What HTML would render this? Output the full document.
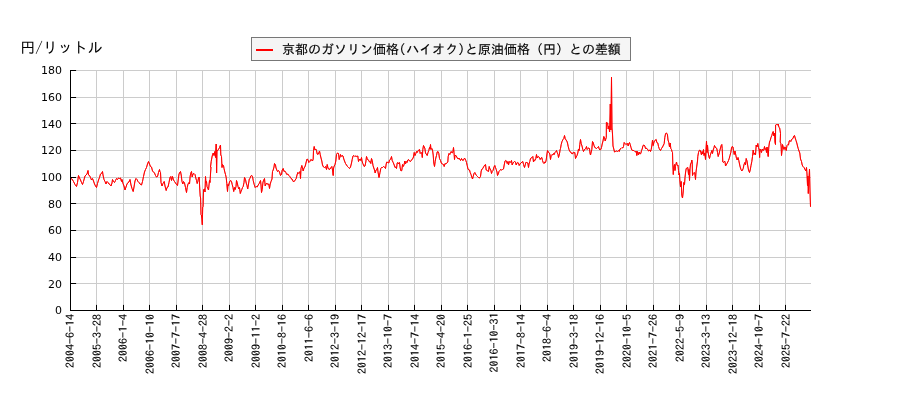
<!DOCTYPE html>
<html lang="ja"><head><meta charset="utf-8"><title>chart</title>
<style>
html,body{margin:0;padding:0;background:#fff;}
body{width:900px;height:400px;overflow:hidden;}
svg{display:block;}
.yt{font-family:"DejaVu Sans","Liberation Sans",sans-serif;font-size:10px;fill:#000;text-anchor:end;}
.xt{font-family:"IPAGothic","Liberation Sans","Noto Sans CJK JP",sans-serif;font-size:12px;fill:#000;text-anchor:end;stroke:#000;stroke-width:0.1px;}
.jp{font-family:"IPAGothic","Liberation Sans","Noto Sans CJK JP",sans-serif;fill:#000;}
</style></head><body>
<svg width="900" height="400" viewBox="0 0 900 400">
<rect width="900" height="400" fill="#fff"/>
<g stroke="#cccccc" stroke-width="1" fill="none" shape-rendering="auto">
<line x1="70.50" y1="70.5" x2="70.50" y2="310.5"/><line x1="96.50" y1="70.5" x2="96.50" y2="310.5"/><line x1="123.50" y1="70.5" x2="123.50" y2="310.5"/><line x1="149.50" y1="70.5" x2="149.50" y2="310.5"/><line x1="176.50" y1="70.5" x2="176.50" y2="310.5"/><line x1="202.50" y1="70.5" x2="202.50" y2="310.5"/><line x1="229.50" y1="70.5" x2="229.50" y2="310.5"/><line x1="255.50" y1="70.5" x2="255.50" y2="310.5"/><line x1="282.50" y1="70.5" x2="282.50" y2="310.5"/><line x1="308.50" y1="70.5" x2="308.50" y2="310.5"/><line x1="335.50" y1="70.5" x2="335.50" y2="310.5"/><line x1="361.50" y1="70.5" x2="361.50" y2="310.5"/><line x1="388.50" y1="70.5" x2="388.50" y2="310.5"/><line x1="414.50" y1="70.5" x2="414.50" y2="310.5"/><line x1="441.50" y1="70.5" x2="441.50" y2="310.5"/><line x1="467.50" y1="70.5" x2="467.50" y2="310.5"/><line x1="494.50" y1="70.5" x2="494.50" y2="310.5"/><line x1="520.50" y1="70.5" x2="520.50" y2="310.5"/><line x1="547.50" y1="70.5" x2="547.50" y2="310.5"/><line x1="573.50" y1="70.5" x2="573.50" y2="310.5"/><line x1="600.50" y1="70.5" x2="600.50" y2="310.5"/><line x1="626.50" y1="70.5" x2="626.50" y2="310.5"/><line x1="653.50" y1="70.5" x2="653.50" y2="310.5"/><line x1="679.50" y1="70.5" x2="679.50" y2="310.5"/><line x1="706.50" y1="70.5" x2="706.50" y2="310.5"/><line x1="732.50" y1="70.5" x2="732.50" y2="310.5"/><line x1="759.50" y1="70.5" x2="759.50" y2="310.5"/><line x1="785.50" y1="70.5" x2="785.50" y2="310.5"/><line x1="70.5" y1="310.50" x2="811.0" y2="310.50"/><line x1="70.5" y1="283.50" x2="811.0" y2="283.50"/><line x1="70.5" y1="257.50" x2="811.0" y2="257.50"/><line x1="70.5" y1="230.50" x2="811.0" y2="230.50"/><line x1="70.5" y1="203.50" x2="811.0" y2="203.50"/><line x1="70.5" y1="177.50" x2="811.0" y2="177.50"/><line x1="70.5" y1="150.50" x2="811.0" y2="150.50"/><line x1="70.5" y1="123.50" x2="811.0" y2="123.50"/><line x1="70.5" y1="97.50" x2="811.0" y2="97.50"/><line x1="70.5" y1="70.50" x2="811.0" y2="70.50"/>
</g>
<path id="ln" d="M70.5,178.3 L71.0,178.5 L72.0,179.0 L73.5,181.5 L75.0,184.5 L76.5,186.5 L77.5,182.5 L78.5,175.5 L79.5,178.0 L80.5,180.0 L81.5,182.5 L82.5,184.5 L83.5,181.5 L85.0,176.0 L86.0,175.0 L87.0,174.0 L88.0,170.5 L88.5,175.0 L89.5,175.5 L90.5,177.5 L91.5,180.0 L92.5,178.5 L93.5,181.0 L94.5,184.0 L95.5,186.0 L96.5,187.5 L97.5,183.5 L98.5,180.0 L99.5,177.5 L100.5,174.0 L101.5,173.5 L102.5,171.5 L103.0,175.0 L104.0,179.5 L105.0,181.5 L106.0,184.0 L107.0,181.5 L108.0,182.5 L109.0,184.0 L110.0,184.5 L111.0,186.0 L112.0,183.0 L112.5,179.5 L113.5,181.5 L114.5,182.5 L115.5,180.5 L116.5,178.5 L117.5,179.5 L118.5,178.0 L119.5,178.5 L120.5,178.0 L121.5,181.5 L122.0,179.5 L123.0,183.5 L124.0,186.0 L125.0,190.0 L126.0,187.0 L127.0,184.0 L128.0,182.5 L129.0,182.0 L130.0,179.5 L131.0,185.0 L132.0,188.5 L133.2,191.5 L134.0,187.0 L135.0,181.0 L136.0,178.5 L137.0,179.5 L138.0,181.5 L139.0,182.5 L140.0,184.0 L141.5,185.0 L142.5,181.5 L143.5,176.5 L144.5,172.0 L145.5,169.5 L146.5,167.5 L147.5,164.0 L148.5,161.5 L149.5,164.0 L150.5,166.5 L151.5,167.0 L152.5,171.0 L153.5,172.0 L154.5,173.0 L155.5,175.5 L156.5,177.0 L157.5,176.5 L158.5,172.5 L159.5,169.5 L160.0,172.0 L160.5,172.5 L161.0,182.5 L162.0,186.0 L163.0,183.5 L164.2,181.5 L165.0,186.0 L166.2,190.5 L167.0,187.5 L168.0,187.0 L169.0,182.5 L170.0,177.5 L170.8,176.5 L171.5,180.5 L172.5,176.5 L173.5,180.0 L174.5,181.5 L175.5,183.0 L176.5,184.5 L177.5,185.5 L178.2,180.0 L179.0,174.0 L180.0,172.0 L180.5,171.5 L181.2,175.0 L182.0,181.5 L182.8,184.0 L183.5,181.5 L184.5,183.0 L185.5,187.5 L186.5,192.5 L187.2,187.5 L188.0,184.0 L189.0,182.5 L189.5,184.0 L190.2,176.0 L191.0,172.5 L191.5,171.5 L192.2,177.0 L193.0,174.0 L194.0,173.5 L195.0,174.5 L195.8,178.0 L196.5,180.5 L197.2,183.5 L197.8,181.5 L198.5,178.0 L199.2,177.0 L199.7,188.0 L200.2,196.0 L200.6,198.0 L201.0,214.5 L201.4,215.0 L201.9,219.0 L202.3,224.8 L202.7,207.0 L203.1,206.5 L203.3,198.0 L203.6,189.5 L204.5,189.0 L205.0,192.0 L205.5,176.5 L206.0,183.0 L206.5,181.5 L207.0,186.5 L207.8,188.5 L208.5,190.0 L209.0,185.0 L209.5,180.5 L210.0,182.5 L210.5,174.0 L211.0,167.0 L210.5,167.0 L211.2,161.5 L212.2,156.0 L213.2,153.0 L214.0,155.5 L214.8,151.5 L215.5,157.5 L216.2,144.0 L216.6,173.0 L217.0,150.0 L217.8,150.5 L218.5,149.5 L219.5,147.5 L220.5,145.0 L220.8,155.0 L221.5,156.5 L222.0,167.5 L222.5,164.5 L223.5,165.5 L224.0,168.5 L224.8,172.0 L225.5,174.5 L226.2,177.5 L226.8,183.5 L227.5,191.5 L228.0,184.5 L228.5,186.0 L229.2,183.0 L230.0,181.0 L230.8,180.5 L231.5,181.5 L232.2,184.5 L233.0,187.5 L233.7,191.5 L234.5,187.5 L235.2,189.5 L236.0,186.5 L236.5,180.5 L237.2,182.5 L238.0,186.5 L238.8,189.0 L239.5,187.5 L240.3,193.5 L241.0,191.5 L241.8,189.5 L242.5,187.5 L243.2,186.5 L244.0,182.5 L244.5,177.5 L245.5,179.5 L246.2,183.0 L247.0,185.5 L247.7,189.0 L248.5,184.0 L249.3,179.0 L250.0,178.5 L250.8,176.0 L251.8,175.5 L252.5,176.5 L253.2,180.5 L254.2,184.5 L255.2,187.5 L256.2,186.5 L257.2,187.0 L258.2,185.0 L259.2,183.5 L260.5,180.5 L261.0,185.0 L261.5,192.5 L262.2,189.5 L263.0,182.0 L263.8,180.0 L264.5,178.5 L265.2,186.0 L266.0,184.0 L266.8,183.0 L267.8,184.5 L268.8,184.0 L269.5,188.5 L270.2,184.0 L271.0,181.5 L272.0,179.0 L272.5,171.5 L273.2,170.0 L274.0,167.0 L274.5,163.5 L275.5,165.0 L276.0,168.0 L276.8,170.0 L277.5,171.5 L278.5,170.5 L279.5,172.0 L280.5,175.5 L281.5,174.5 L282.2,170.0 L283.2,168.5 L284.0,171.5 L284.8,171.0 L285.8,172.5 L286.8,174.5 L287.8,174.0 L288.8,175.5 L289.8,176.5 L291.0,178.5 L292.0,179.0 L293.2,181.5 L294.2,181.5 L295.2,180.0 L296.2,178.5 L297.0,175.0 L297.8,172.5 L298.8,173.5 L299.5,172.0 L300.0,171.5 L300.5,178.5 L301.0,168.5 L301.8,165.5 L302.5,168.0 L303.2,171.0 L304.0,168.0 L304.8,167.0 L305.5,165.0 L306.2,162.0 L307.0,159.0 L307.8,159.5 L308.8,162.5 L309.8,161.5 L310.8,159.5 L311.8,160.0 L312.5,161.0 L313.2,159.0 L313.5,150.5 L314.2,146.5 L315.0,150.0 L315.8,149.0 L316.5,150.5 L317.2,154.0 L318.0,154.5 L318.8,153.0 L319.5,151.0 L320.2,154.5 L321.0,158.0 L321.8,161.0 L322.5,165.0 L323.5,167.0 L324.5,167.5 L325.5,166.5 L326.5,169.5 L327.2,164.5 L328.0,168.0 L329.0,169.5 L330.0,169.0 L331.0,167.5 L331.8,166.5 L332.5,170.0 L333.2,175.5 L333.6,168.0 L334.2,166.0 L335.0,164.5 L335.8,161.0 L336.5,154.5 L337.5,153.0 L338.5,153.5 L339.2,159.5 L339.8,157.5 L340.5,154.5 L341.2,156.5 L342.0,155.5 L343.0,156.0 L343.8,159.0 L344.5,161.0 L345.5,163.5 L346.5,165.0 L347.5,166.5 L348.5,167.5 L349.5,168.5 L350.5,167.0 L351.5,163.0 L352.2,159.5 L353.0,156.0 L353.8,155.5 L354.8,156.5 L355.8,156.0 L356.8,156.5 L357.8,156.0 L358.5,161.5 L359.2,160.0 L360.0,159.0 L360.8,160.5 L361.5,157.5 L362.0,161.0 L362.8,163.5 L363.5,165.0 L364.2,166.5 L365.0,166.0 L365.8,162.0 L366.5,156.5 L367.2,158.5 L368.0,160.0 L368.8,160.5 L369.5,162.0 L370.2,161.5 L370.8,163.5 L371.5,158.5 L372.2,160.5 L373.0,165.5 L373.8,168.0 L374.5,170.0 L375.2,173.0 L376.0,170.0 L376.8,169.5 L377.5,167.5 L378.0,172.0 L379.0,177.5 L380.0,172.5 L380.8,168.5 L381.5,167.5 L382.5,167.5 L383.5,166.5 L384.5,167.0 L385.5,168.5 L386.2,164.0 L386.8,162.0 L387.8,162.5 L388.8,163.0 L389.5,160.0 L390.0,159.5 L390.8,159.0 L391.5,156.5 L392.2,160.5 L393.2,162.5 L394.2,165.0 L395.0,167.5 L395.8,167.0 L396.5,168.5 L397.2,163.0 L398.0,162.5 L398.8,164.0 L399.5,162.5 L400.2,168.0 L401.0,171.0 L401.8,170.5 L402.5,164.5 L403.2,166.5 L404.0,165.0 L404.8,161.0 L405.5,164.0 L406.2,161.5 L407.0,162.5 L407.8,160.0 L408.5,159.5 L409.5,161.0 L410.5,161.5 L411.5,160.0 L412.5,159.0 L413.5,157.0 L414.2,152.5 L415.0,155.5 L415.8,153.5 L416.5,151.5 L417.2,152.5 L418.2,150.5 L419.0,150.0 L419.5,149.5 L420.2,153.5 L421.0,152.5 L421.8,153.0 L422.3,157.5 L422.8,149.5 L423.5,145.5 L424.2,147.0 L424.8,148.0 L425.5,153.0 L426.2,154.0 L427.2,155.5 L428.0,152.5 L428.8,150.5 L429.5,147.5 L430.0,149.0 L430.5,144.5 L431.0,149.5 L431.8,148.5 L432.5,150.0 L433.2,155.0 L433.8,163.0 L434.5,166.5 L435.2,161.5 L435.8,158.0 L436.5,155.5 L437.2,152.0 L438.0,151.5 L438.8,153.5 L439.5,158.5 L440.5,160.5 L441.5,163.5 L442.5,164.0 L443.5,164.5 L444.2,166.5 L445.0,163.5 L445.8,164.0 L446.8,163.0 L447.8,162.0 L448.2,156.5 L449.0,153.5 L449.8,154.5 L450.5,152.5 L451.2,151.5 L452.0,153.0 L452.8,152.5 L453.5,147.5 L454.0,152.5 L454.5,159.5 L455.0,155.5 L456.0,155.5 L456.8,157.0 L457.5,158.5 L458.2,159.0 L459.0,158.0 L459.8,159.5 L460.5,160.5 L461.5,158.5 L462.2,160.0 L463.2,160.5 L464.2,158.5 L465.0,158.5 L465.8,160.5 L466.5,162.5 L467.2,165.5 L468.0,169.0 L468.8,170.0 L469.5,170.0 L470.2,172.5 L471.0,174.5 L471.8,177.0 L472.5,179.0 L473.2,176.5 L474.0,173.5 L474.8,172.5 L475.5,174.0 L476.5,175.5 L477.5,176.5 L478.5,177.5 L479.5,178.0 L480.0,177.0 L480.5,176.5 L481.2,171.0 L482.0,169.0 L482.8,168.5 L483.8,166.5 L484.8,165.0 L485.5,164.5 L486.2,170.0 L487.0,170.5 L487.8,171.0 L488.5,171.5 L489.2,166.5 L490.0,169.0 L490.8,170.0 L491.5,173.5 L492.2,171.5 L493.0,170.5 L494.0,167.0 L494.8,165.5 L495.5,167.5 L496.2,169.5 L497.0,172.0 L497.5,175.5 L498.2,174.0 L499.0,171.5 L499.8,170.5 L500.5,169.5 L501.5,170.0 L502.5,169.5 L503.5,169.0 L504.2,165.0 L505.0,161.0 L505.8,160.5 L506.5,161.0 L507.2,163.5 L508.0,161.5 L508.5,165.0 L509.2,162.0 L510.0,161.5 L510.8,162.5 L511.5,160.5 L512.2,165.0 L513.0,163.0 L513.8,162.0 L514.5,161.5 L515.5,162.0 L516.2,165.0 L517.0,163.0 L517.8,162.5 L518.5,163.0 L519.2,165.5 L520.0,164.0 L521.0,163.0 L522.0,162.0 L522.8,161.5 L523.5,164.5 L524.5,167.5 L525.2,165.0 L525.8,162.5 L526.8,162.5 L527.8,163.0 L528.5,167.5 L529.0,164.0 L529.8,161.5 L530.5,158.5 L531.2,158.0 L532.0,157.5 L532.8,156.5 L533.5,162.0 L534.2,160.0 L535.0,160.5 L535.8,158.5 L536.5,154.5 L537.2,158.0 L538.0,156.5 L538.8,157.0 L539.5,157.5 L540.2,159.5 L541.0,158.0 L541.8,157.5 L542.5,160.5 L543.2,162.5 L544.0,163.5 L544.8,162.0 L545.5,162.5 L546.2,160.0 L546.8,155.0 L547.5,150.5 L548.2,152.0 L549.0,152.5 L549.8,154.0 L550.5,159.5 L551.2,155.5 L552.0,154.5 L552.8,155.0 L553.5,153.5 L554.2,154.5 L555.0,152.5 L555.8,151.5 L556.5,150.5 L557.2,152.5 L558.0,154.5 L558.5,157.5 L559.2,155.0 L559.8,152.0 L560.0,150.0 L560.5,148.5 L561.2,144.5 L562.0,141.5 L563.0,139.5 L563.8,138.5 L564.5,135.5 L565.2,138.5 L566.0,140.0 L566.8,141.0 L567.5,143.0 L568.2,146.5 L569.0,149.5 L569.8,151.5 L570.8,152.0 L571.5,153.5 L572.2,154.0 L573.0,152.5 L574.0,153.0 L574.8,152.5 L575.5,158.5 L576.2,157.0 L577.0,155.5 L577.8,153.0 L578.5,149.0 L579.2,150.5 L579.8,144.5 L580.5,139.5 L581.2,143.5 L582.0,146.0 L582.8,149.5 L583.5,151.5 L584.2,150.0 L585.0,149.0 L585.8,148.5 L586.5,146.5 L587.2,149.5 L588.0,148.5 L588.8,148.0 L589.5,148.5 L590.0,153.0 L590.5,155.0 L591.2,152.0 L591.8,149.5 L592.5,141.5 L593.2,142.5 L594.0,145.5 L594.8,147.5 L595.8,148.0 L596.5,148.5 L597.5,147.5 L598.5,146.5 L599.2,149.0 L600.0,150.0 L600.8,149.5 L601.5,147.5 L602.2,144.0 L603.0,141.0 L603.8,136.5 L604.5,137.5 L605.2,141.0 L605.8,139.0 L606.3,137.5 L606.4,122.4 L607.6,123.0 L608.2,129.0 L608.9,126.0 L609.6,132.0 L610.3,104.0 L610.9,130.0 L611.5,77.2 L612.0,128.0 L612.5,134.0 L613.0,146.0 L613.8,149.0 L614.5,152.0 L615.5,151.5 L616.5,151.0 L617.5,151.5 L618.5,150.5 L619.2,151.5 L620.0,149.0 L621.0,148.5 L622.0,147.5 L622.8,148.0 L623.5,146.5 L624.2,142.5 L625.0,143.5 L625.8,144.5 L626.5,144.0 L627.5,143.5 L628.2,146.0 L629.0,143.0 L629.5,142.5 L630.2,144.5 L631.0,147.5 L631.8,150.0 L632.8,150.5 L633.8,150.5 L634.8,151.5 L635.5,152.0 L636.2,151.0 L636.8,155.5 L637.5,151.5 L638.5,155.0 L639.2,152.0 L640.0,154.0 L640.8,153.5 L641.5,150.5 L642.2,149.0 L643.0,145.5 L644.0,145.0 L644.8,146.0 L645.5,148.5 L646.2,148.0 L647.0,149.0 L647.8,149.5 L648.5,151.0 L649.2,150.5 L650.0,150.0 L650.5,151.5 L651.2,149.5 L651.8,146.0 L652.5,140.0 L653.2,145.5 L654.0,142.0 L654.8,140.5 L655.5,140.0 L656.2,139.5 L656.8,142.5 L657.8,143.0 L658.5,146.5 L659.2,148.5 L660.0,150.0 L660.5,150.5 L661.5,148.5 L662.5,147.0 L663.5,145.0 L664.2,143.5 L664.8,137.5 L665.5,134.0 L666.2,133.0 L667.0,133.5 L667.5,135.0 L668.0,140.0 L668.8,142.5 L669.5,147.0 L670.2,143.0 L670.8,148.5 L671.5,149.5 L672.0,151.5 L672.5,152.5 L672.8,164.0 L673.3,174.5 L673.8,167.0 L674.5,164.5 L675.0,170.5 L675.5,166.5 L676.0,164.0 L676.5,162.0 L677.0,164.5 L677.5,165.5 L678.0,165.0 L678.5,170.5 L679.0,175.0 L679.5,173.5 L679.8,179.5 L680.5,187.0 L681.2,181.5 L681.8,195.5 L682.5,198.0 L683.2,192.0 L683.8,182.5 L684.5,184.5 L685.0,177.5 L685.5,173.0 L686.2,168.5 L687.0,168.0 L687.8,167.5 L688.5,174.5 L689.0,169.5 L689.5,180.5 L690.0,169.0 L690.5,164.0 L691.2,163.0 L691.8,160.0 L692.2,162.0 L692.5,175.5 L693.2,173.5 L694.0,172.5 L694.8,173.0 L695.5,179.5 L696.0,172.0 L696.8,166.0 L697.5,161.0 L697.8,156.5 L698.5,152.5 L699.2,150.5 L700.0,150.0 L700.8,152.5 L701.5,155.0 L702.0,151.5 L702.8,154.0 L703.5,149.5 L704.0,155.5 L704.8,153.0 L705.5,159.5 L706.0,150.0 L706.5,141.0 L707.0,152.5 L707.5,145.0 L708.0,151.5 L708.8,156.5 L709.5,158.5 L710.2,155.5 L711.0,153.0 L711.8,150.5 L712.5,153.5 L713.2,150.0 L714.0,147.5 L714.5,145.5 L715.2,147.0 L716.0,148.0 L716.8,148.5 L717.5,152.5 L718.2,156.5 L719.0,154.0 L719.8,150.5 L720.5,148.0 L721.2,145.5 L721.8,144.5 L722.2,148.5 L722.8,162.0 L723.5,162.5 L724.2,161.5 L725.0,161.5 L725.5,166.0 L726.2,165.0 L727.0,163.5 L727.8,162.0 L728.5,160.5 L729.2,158.5 L730.0,155.5 L730.8,152.5 L731.5,148.0 L732.2,146.5 L733.0,147.0 L733.5,150.5 L734.2,154.5 L735.0,151.0 L735.8,155.0 L736.5,158.5 L737.2,160.0 L738.0,157.5 L738.8,160.5 L739.5,164.0 L740.2,167.0 L741.0,169.5 L741.8,171.0 L742.5,170.0 L743.2,168.5 L744.0,164.5 L744.8,162.5 L745.5,165.0 L746.2,158.5 L747.0,161.0 L747.8,166.0 L748.5,170.0 L749.5,172.5 L750.2,170.0 L751.0,165.5 L751.8,161.5 L752.5,156.5 L753.2,150.0 L754.0,154.5 L754.8,153.0 L755.5,155.0 L756.2,145.0 L757.0,147.0 L757.8,143.5 L758.5,147.5 L759.2,150.0 L759.6,157.5 L760.0,149.0 L760.8,150.5 L761.5,152.5 L762.2,149.0 L763.0,150.5 L763.8,150.0 L764.5,146.5 L765.2,149.5 L766.0,148.5 L766.5,152.5 L767.0,147.0 L767.5,150.0 L768.2,156.5 L768.8,147.0 L769.5,142.0 L770.2,140.5 L771.0,137.5 L771.8,135.5 L772.5,133.0 L773.2,131.5 L773.8,136.0 L774.5,133.0 L775.0,142.5 L775.5,144.5 L775.6,125.0 L776.5,124.5 L777.5,125.0 L778.2,124.0 L779.0,127.5 L779.7,128.0 L780.5,133.5 L780.2,142.0 L780.8,143.5 L781.2,147.0 L781.5,155.5 L782.0,151.0 L782.5,144.5 L783.2,147.0 L784.0,149.5 L784.8,147.0 L785.5,147.5 L786.2,150.5 L787.0,145.5 L787.8,144.5 L788.5,145.0 L789.2,141.0 L790.0,140.5 L790.8,141.5 L791.5,139.5 L792.2,139.0 L793.0,138.5 L793.8,136.0 L794.5,135.5 L795.2,138.0 L796.0,140.5 L796.8,143.0 L797.5,146.0 L798.2,148.5 L799.0,151.0 L799.8,153.0 L800.5,159.0 L801.5,161.5 L802.2,165.0 L803.0,166.5 L804.0,167.5 L805.0,169.5 L805.8,171.0 L806.5,167.5 L807.0,174.0 L807.5,185.5 L807.9,176.0 L808.3,193.5 L808.9,180.0 L809.5,169.0 L810.0,191.0 L810.5,206.8" fill="none" stroke="#ff0000" stroke-width="1" stroke-linejoin="miter" stroke-miterlimit="3"/>
<path d="M70.5,178.3 L71.0,178.5 L72.0,179.0 L73.5,181.5 L75.0,184.5 L76.5,186.5 L77.5,182.5 L78.5,175.5 L79.5,178.0 L80.5,180.0 L81.5,182.5 L82.5,184.5 L83.5,181.5 L85.0,176.0 L86.0,175.0 L87.0,174.0 L88.0,170.5 L88.5,175.0 L89.5,175.5 L90.5,177.5 L91.5,180.0 L92.5,178.5 L93.5,181.0 L94.5,184.0 L95.5,186.0 L96.5,187.5 L97.5,183.5 L98.5,180.0 L99.5,177.5 L100.5,174.0 L101.5,173.5 L102.5,171.5 L103.0,175.0 L104.0,179.5 L105.0,181.5 L106.0,184.0 L107.0,181.5 L108.0,182.5 L109.0,184.0 L110.0,184.5 L111.0,186.0 L112.0,183.0 L112.5,179.5 L113.5,181.5 L114.5,182.5 L115.5,180.5 L116.5,178.5 L117.5,179.5 L118.5,178.0 L119.5,178.5 L120.5,178.0 L121.5,181.5 L122.0,179.5 L123.0,183.5 L124.0,186.0 L125.0,190.0 L126.0,187.0 L127.0,184.0 L128.0,182.5 L129.0,182.0 L130.0,179.5 L131.0,185.0 L132.0,188.5 L133.2,191.5 L134.0,187.0 L135.0,181.0 L136.0,178.5 L137.0,179.5 L138.0,181.5 L139.0,182.5 L140.0,184.0 L141.5,185.0 L142.5,181.5 L143.5,176.5 L144.5,172.0 L145.5,169.5 L146.5,167.5 L147.5,164.0 L148.5,161.5 L149.5,164.0 L150.5,166.5 L151.5,167.0 L152.5,171.0 L153.5,172.0 L154.5,173.0 L155.5,175.5 L156.5,177.0 L157.5,176.5 L158.5,172.5 L159.5,169.5 L160.0,172.0 L160.5,172.5 L161.0,182.5 L162.0,186.0 L163.0,183.5 L164.2,181.5 L165.0,186.0 L166.2,190.5 L167.0,187.5 L168.0,187.0 L169.0,182.5 L170.0,177.5 L170.8,176.5 L171.5,180.5 L172.5,176.5 L173.5,180.0 L174.5,181.5 L175.5,183.0 L176.5,184.5 L177.5,185.5 L178.2,180.0 L179.0,174.0 L180.0,172.0 L180.5,171.5 L181.2,175.0 L182.0,181.5 L182.8,184.0 L183.5,181.5 L184.5,183.0 L185.5,187.5 L186.5,192.5 L187.2,187.5 L188.0,184.0 L189.0,182.5 L189.5,184.0 L190.2,176.0 L191.0,172.5 L191.5,171.5 L192.2,177.0 L193.0,174.0 L194.0,173.5 L195.0,174.5 L195.8,178.0 L196.5,180.5 L197.2,183.5 L197.8,181.5 L198.5,178.0 L199.2,177.0 L199.7,188.0 L200.2,196.0 L200.6,198.0 L201.0,214.5 L201.4,215.0 L201.9,219.0 L202.3,224.8 L202.7,207.0 L203.1,206.5 L203.3,198.0 L203.6,189.5 L204.5,189.0 L205.0,192.0 L205.5,176.5 L206.0,183.0 L206.5,181.5 L207.0,186.5 L207.8,188.5 L208.5,190.0 L209.0,185.0 L209.5,180.5 L210.0,182.5 L210.5,174.0 L211.0,167.0 L210.5,167.0 L211.2,161.5 L212.2,156.0 L213.2,153.0 L214.0,155.5 L214.8,151.5 L215.5,157.5 L216.2,144.0 L216.6,173.0 L217.0,150.0 L217.8,150.5 L218.5,149.5 L219.5,147.5 L220.5,145.0 L220.8,155.0 L221.5,156.5 L222.0,167.5 L222.5,164.5 L223.5,165.5 L224.0,168.5 L224.8,172.0 L225.5,174.5 L226.2,177.5 L226.8,183.5 L227.5,191.5 L228.0,184.5 L228.5,186.0 L229.2,183.0 L230.0,181.0 L230.8,180.5 L231.5,181.5 L232.2,184.5 L233.0,187.5 L233.7,191.5 L234.5,187.5 L235.2,189.5 L236.0,186.5 L236.5,180.5 L237.2,182.5 L238.0,186.5 L238.8,189.0 L239.5,187.5 L240.3,193.5 L241.0,191.5 L241.8,189.5 L242.5,187.5 L243.2,186.5 L244.0,182.5 L244.5,177.5 L245.5,179.5 L246.2,183.0 L247.0,185.5 L247.7,189.0 L248.5,184.0 L249.3,179.0 L250.0,178.5 L250.8,176.0 L251.8,175.5 L252.5,176.5 L253.2,180.5 L254.2,184.5 L255.2,187.5 L256.2,186.5 L257.2,187.0 L258.2,185.0 L259.2,183.5 L260.5,180.5 L261.0,185.0 L261.5,192.5 L262.2,189.5 L263.0,182.0 L263.8,180.0 L264.5,178.5 L265.2,186.0 L266.0,184.0 L266.8,183.0 L267.8,184.5 L268.8,184.0 L269.5,188.5 L270.2,184.0 L271.0,181.5 L272.0,179.0 L272.5,171.5 L273.2,170.0 L274.0,167.0 L274.5,163.5 L275.5,165.0 L276.0,168.0 L276.8,170.0 L277.5,171.5 L278.5,170.5 L279.5,172.0 L280.5,175.5 L281.5,174.5 L282.2,170.0 L283.2,168.5 L284.0,171.5 L284.8,171.0 L285.8,172.5 L286.8,174.5 L287.8,174.0 L288.8,175.5 L289.8,176.5 L291.0,178.5 L292.0,179.0 L293.2,181.5 L294.2,181.5 L295.2,180.0 L296.2,178.5 L297.0,175.0 L297.8,172.5 L298.8,173.5 L299.5,172.0 L300.0,171.5 L300.5,178.5 L301.0,168.5 L301.8,165.5 L302.5,168.0 L303.2,171.0 L304.0,168.0 L304.8,167.0 L305.5,165.0 L306.2,162.0 L307.0,159.0 L307.8,159.5 L308.8,162.5 L309.8,161.5 L310.8,159.5 L311.8,160.0 L312.5,161.0 L313.2,159.0 L313.5,150.5 L314.2,146.5 L315.0,150.0 L315.8,149.0 L316.5,150.5 L317.2,154.0 L318.0,154.5 L318.8,153.0 L319.5,151.0 L320.2,154.5 L321.0,158.0 L321.8,161.0 L322.5,165.0 L323.5,167.0 L324.5,167.5 L325.5,166.5 L326.5,169.5 L327.2,164.5 L328.0,168.0 L329.0,169.5 L330.0,169.0 L331.0,167.5 L331.8,166.5 L332.5,170.0 L333.2,175.5 L333.6,168.0 L334.2,166.0 L335.0,164.5 L335.8,161.0 L336.5,154.5 L337.5,153.0 L338.5,153.5 L339.2,159.5 L339.8,157.5 L340.5,154.5 L341.2,156.5 L342.0,155.5 L343.0,156.0 L343.8,159.0 L344.5,161.0 L345.5,163.5 L346.5,165.0 L347.5,166.5 L348.5,167.5 L349.5,168.5 L350.5,167.0 L351.5,163.0 L352.2,159.5 L353.0,156.0 L353.8,155.5 L354.8,156.5 L355.8,156.0 L356.8,156.5 L357.8,156.0 L358.5,161.5 L359.2,160.0 L360.0,159.0 L360.8,160.5 L361.5,157.5 L362.0,161.0 L362.8,163.5 L363.5,165.0 L364.2,166.5 L365.0,166.0 L365.8,162.0 L366.5,156.5 L367.2,158.5 L368.0,160.0 L368.8,160.5 L369.5,162.0 L370.2,161.5 L370.8,163.5 L371.5,158.5 L372.2,160.5 L373.0,165.5 L373.8,168.0 L374.5,170.0 L375.2,173.0 L376.0,170.0 L376.8,169.5 L377.5,167.5 L378.0,172.0 L379.0,177.5 L380.0,172.5 L380.8,168.5 L381.5,167.5 L382.5,167.5 L383.5,166.5 L384.5,167.0 L385.5,168.5 L386.2,164.0 L386.8,162.0 L387.8,162.5 L388.8,163.0 L389.5,160.0 L390.0,159.5 L390.8,159.0 L391.5,156.5 L392.2,160.5 L393.2,162.5 L394.2,165.0 L395.0,167.5 L395.8,167.0 L396.5,168.5 L397.2,163.0 L398.0,162.5 L398.8,164.0 L399.5,162.5 L400.2,168.0 L401.0,171.0 L401.8,170.5 L402.5,164.5 L403.2,166.5 L404.0,165.0 L404.8,161.0 L405.5,164.0 L406.2,161.5 L407.0,162.5 L407.8,160.0 L408.5,159.5 L409.5,161.0 L410.5,161.5 L411.5,160.0 L412.5,159.0 L413.5,157.0 L414.2,152.5 L415.0,155.5 L415.8,153.5 L416.5,151.5 L417.2,152.5 L418.2,150.5 L419.0,150.0 L419.5,149.5 L420.2,153.5 L421.0,152.5 L421.8,153.0 L422.3,157.5 L422.8,149.5 L423.5,145.5 L424.2,147.0 L424.8,148.0 L425.5,153.0 L426.2,154.0 L427.2,155.5 L428.0,152.5 L428.8,150.5 L429.5,147.5 L430.0,149.0 L430.5,144.5 L431.0,149.5 L431.8,148.5 L432.5,150.0 L433.2,155.0 L433.8,163.0 L434.5,166.5 L435.2,161.5 L435.8,158.0 L436.5,155.5 L437.2,152.0 L438.0,151.5 L438.8,153.5 L439.5,158.5 L440.5,160.5 L441.5,163.5 L442.5,164.0 L443.5,164.5 L444.2,166.5 L445.0,163.5 L445.8,164.0 L446.8,163.0 L447.8,162.0 L448.2,156.5 L449.0,153.5 L449.8,154.5 L450.5,152.5 L451.2,151.5 L452.0,153.0 L452.8,152.5 L453.5,147.5 L454.0,152.5 L454.5,159.5 L455.0,155.5 L456.0,155.5 L456.8,157.0 L457.5,158.5 L458.2,159.0 L459.0,158.0 L459.8,159.5 L460.5,160.5 L461.5,158.5 L462.2,160.0 L463.2,160.5 L464.2,158.5 L465.0,158.5 L465.8,160.5 L466.5,162.5 L467.2,165.5 L468.0,169.0 L468.8,170.0 L469.5,170.0 L470.2,172.5 L471.0,174.5 L471.8,177.0 L472.5,179.0 L473.2,176.5 L474.0,173.5 L474.8,172.5 L475.5,174.0 L476.5,175.5 L477.5,176.5 L478.5,177.5 L479.5,178.0 L480.0,177.0 L480.5,176.5 L481.2,171.0 L482.0,169.0 L482.8,168.5 L483.8,166.5 L484.8,165.0 L485.5,164.5 L486.2,170.0 L487.0,170.5 L487.8,171.0 L488.5,171.5 L489.2,166.5 L490.0,169.0 L490.8,170.0 L491.5,173.5 L492.2,171.5 L493.0,170.5 L494.0,167.0 L494.8,165.5 L495.5,167.5 L496.2,169.5 L497.0,172.0 L497.5,175.5 L498.2,174.0 L499.0,171.5 L499.8,170.5 L500.5,169.5 L501.5,170.0 L502.5,169.5 L503.5,169.0 L504.2,165.0 L505.0,161.0 L505.8,160.5 L506.5,161.0 L507.2,163.5 L508.0,161.5 L508.5,165.0 L509.2,162.0 L510.0,161.5 L510.8,162.5 L511.5,160.5 L512.2,165.0 L513.0,163.0 L513.8,162.0 L514.5,161.5 L515.5,162.0 L516.2,165.0 L517.0,163.0 L517.8,162.5 L518.5,163.0 L519.2,165.5 L520.0,164.0 L521.0,163.0 L522.0,162.0 L522.8,161.5 L523.5,164.5 L524.5,167.5 L525.2,165.0 L525.8,162.5 L526.8,162.5 L527.8,163.0 L528.5,167.5 L529.0,164.0 L529.8,161.5 L530.5,158.5 L531.2,158.0 L532.0,157.5 L532.8,156.5 L533.5,162.0 L534.2,160.0 L535.0,160.5 L535.8,158.5 L536.5,154.5 L537.2,158.0 L538.0,156.5 L538.8,157.0 L539.5,157.5 L540.2,159.5 L541.0,158.0 L541.8,157.5 L542.5,160.5 L543.2,162.5 L544.0,163.5 L544.8,162.0 L545.5,162.5 L546.2,160.0 L546.8,155.0 L547.5,150.5 L548.2,152.0 L549.0,152.5 L549.8,154.0 L550.5,159.5 L551.2,155.5 L552.0,154.5 L552.8,155.0 L553.5,153.5 L554.2,154.5 L555.0,152.5 L555.8,151.5 L556.5,150.5 L557.2,152.5 L558.0,154.5 L558.5,157.5 L559.2,155.0 L559.8,152.0 L560.0,150.0 L560.5,148.5 L561.2,144.5 L562.0,141.5 L563.0,139.5 L563.8,138.5 L564.5,135.5 L565.2,138.5 L566.0,140.0 L566.8,141.0 L567.5,143.0 L568.2,146.5 L569.0,149.5 L569.8,151.5 L570.8,152.0 L571.5,153.5 L572.2,154.0 L573.0,152.5 L574.0,153.0 L574.8,152.5 L575.5,158.5 L576.2,157.0 L577.0,155.5 L577.8,153.0 L578.5,149.0 L579.2,150.5 L579.8,144.5 L580.5,139.5 L581.2,143.5 L582.0,146.0 L582.8,149.5 L583.5,151.5 L584.2,150.0 L585.0,149.0 L585.8,148.5 L586.5,146.5 L587.2,149.5 L588.0,148.5 L588.8,148.0 L589.5,148.5 L590.0,153.0 L590.5,155.0 L591.2,152.0 L591.8,149.5 L592.5,141.5 L593.2,142.5 L594.0,145.5 L594.8,147.5 L595.8,148.0 L596.5,148.5 L597.5,147.5 L598.5,146.5 L599.2,149.0 L600.0,150.0 L600.8,149.5 L601.5,147.5 L602.2,144.0 L603.0,141.0 L603.8,136.5 L604.5,137.5 L605.2,141.0 L605.8,139.0 L606.3,137.5 L606.4,122.4 L607.6,123.0 L608.2,129.0 L608.9,126.0 L609.6,132.0 L610.3,104.0 L610.9,130.0 L611.5,77.2 L612.0,128.0 L612.5,134.0 L613.0,146.0 L613.8,149.0 L614.5,152.0 L615.5,151.5 L616.5,151.0 L617.5,151.5 L618.5,150.5 L619.2,151.5 L620.0,149.0 L621.0,148.5 L622.0,147.5 L622.8,148.0 L623.5,146.5 L624.2,142.5 L625.0,143.5 L625.8,144.5 L626.5,144.0 L627.5,143.5 L628.2,146.0 L629.0,143.0 L629.5,142.5 L630.2,144.5 L631.0,147.5 L631.8,150.0 L632.8,150.5 L633.8,150.5 L634.8,151.5 L635.5,152.0 L636.2,151.0 L636.8,155.5 L637.5,151.5 L638.5,155.0 L639.2,152.0 L640.0,154.0 L640.8,153.5 L641.5,150.5 L642.2,149.0 L643.0,145.5 L644.0,145.0 L644.8,146.0 L645.5,148.5 L646.2,148.0 L647.0,149.0 L647.8,149.5 L648.5,151.0 L649.2,150.5 L650.0,150.0 L650.5,151.5 L651.2,149.5 L651.8,146.0 L652.5,140.0 L653.2,145.5 L654.0,142.0 L654.8,140.5 L655.5,140.0 L656.2,139.5 L656.8,142.5 L657.8,143.0 L658.5,146.5 L659.2,148.5 L660.0,150.0 L660.5,150.5 L661.5,148.5 L662.5,147.0 L663.5,145.0 L664.2,143.5 L664.8,137.5 L665.5,134.0 L666.2,133.0 L667.0,133.5 L667.5,135.0 L668.0,140.0 L668.8,142.5 L669.5,147.0 L670.2,143.0 L670.8,148.5 L671.5,149.5 L672.0,151.5 L672.5,152.5 L672.8,164.0 L673.3,174.5 L673.8,167.0 L674.5,164.5 L675.0,170.5 L675.5,166.5 L676.0,164.0 L676.5,162.0 L677.0,164.5 L677.5,165.5 L678.0,165.0 L678.5,170.5 L679.0,175.0 L679.5,173.5 L679.8,179.5 L680.5,187.0 L681.2,181.5 L681.8,195.5 L682.5,198.0 L683.2,192.0 L683.8,182.5 L684.5,184.5 L685.0,177.5 L685.5,173.0 L686.2,168.5 L687.0,168.0 L687.8,167.5 L688.5,174.5 L689.0,169.5 L689.5,180.5 L690.0,169.0 L690.5,164.0 L691.2,163.0 L691.8,160.0 L692.2,162.0 L692.5,175.5 L693.2,173.5 L694.0,172.5 L694.8,173.0 L695.5,179.5 L696.0,172.0 L696.8,166.0 L697.5,161.0 L697.8,156.5 L698.5,152.5 L699.2,150.5 L700.0,150.0 L700.8,152.5 L701.5,155.0 L702.0,151.5 L702.8,154.0 L703.5,149.5 L704.0,155.5 L704.8,153.0 L705.5,159.5 L706.0,150.0 L706.5,141.0 L707.0,152.5 L707.5,145.0 L708.0,151.5 L708.8,156.5 L709.5,158.5 L710.2,155.5 L711.0,153.0 L711.8,150.5 L712.5,153.5 L713.2,150.0 L714.0,147.5 L714.5,145.5 L715.2,147.0 L716.0,148.0 L716.8,148.5 L717.5,152.5 L718.2,156.5 L719.0,154.0 L719.8,150.5 L720.5,148.0 L721.2,145.5 L721.8,144.5 L722.2,148.5 L722.8,162.0 L723.5,162.5 L724.2,161.5 L725.0,161.5 L725.5,166.0 L726.2,165.0 L727.0,163.5 L727.8,162.0 L728.5,160.5 L729.2,158.5 L730.0,155.5 L730.8,152.5 L731.5,148.0 L732.2,146.5 L733.0,147.0 L733.5,150.5 L734.2,154.5 L735.0,151.0 L735.8,155.0 L736.5,158.5 L737.2,160.0 L738.0,157.5 L738.8,160.5 L739.5,164.0 L740.2,167.0 L741.0,169.5 L741.8,171.0 L742.5,170.0 L743.2,168.5 L744.0,164.5 L744.8,162.5 L745.5,165.0 L746.2,158.5 L747.0,161.0 L747.8,166.0 L748.5,170.0 L749.5,172.5 L750.2,170.0 L751.0,165.5 L751.8,161.5 L752.5,156.5 L753.2,150.0 L754.0,154.5 L754.8,153.0 L755.5,155.0 L756.2,145.0 L757.0,147.0 L757.8,143.5 L758.5,147.5 L759.2,150.0 L759.6,157.5 L760.0,149.0 L760.8,150.5 L761.5,152.5 L762.2,149.0 L763.0,150.5 L763.8,150.0 L764.5,146.5 L765.2,149.5 L766.0,148.5 L766.5,152.5 L767.0,147.0 L767.5,150.0 L768.2,156.5 L768.8,147.0 L769.5,142.0 L770.2,140.5 L771.0,137.5 L771.8,135.5 L772.5,133.0 L773.2,131.5 L773.8,136.0 L774.5,133.0 L775.0,142.5 L775.5,144.5 L775.6,125.0 L776.5,124.5 L777.5,125.0 L778.2,124.0 L779.0,127.5 L779.7,128.0 L780.5,133.5 L780.2,142.0 L780.8,143.5 L781.2,147.0 L781.5,155.5 L782.0,151.0 L782.5,144.5 L783.2,147.0 L784.0,149.5 L784.8,147.0 L785.5,147.5 L786.2,150.5 L787.0,145.5 L787.8,144.5 L788.5,145.0 L789.2,141.0 L790.0,140.5 L790.8,141.5 L791.5,139.5 L792.2,139.0 L793.0,138.5 L793.8,136.0 L794.5,135.5 L795.2,138.0 L796.0,140.5 L796.8,143.0 L797.5,146.0 L798.2,148.5 L799.0,151.0 L799.8,153.0 L800.5,159.0 L801.5,161.5 L802.2,165.0 L803.0,166.5 L804.0,167.5 L805.0,169.5 L805.8,171.0 L806.5,167.5 L807.0,174.0 L807.5,185.5 L807.9,176.0 L808.3,193.5 L808.9,180.0 L809.5,169.0 L810.0,191.0 L810.5,206.8" fill="none" stroke="#ff0000" stroke-width="0.6" stroke-linejoin="miter" stroke-miterlimit="3"/>
<g stroke="#000" stroke-width="1" fill="none">
<line x1="70.5" y1="70.0" x2="70.5" y2="311.0"/><line x1="70.0" y1="310.5" x2="811.0" y2="310.5"/><line x1="70.50" y1="310.5" x2="70.50" y2="304.9"/><line x1="96.50" y1="310.5" x2="96.50" y2="304.9"/><line x1="123.50" y1="310.5" x2="123.50" y2="304.9"/><line x1="149.50" y1="310.5" x2="149.50" y2="304.9"/><line x1="176.50" y1="310.5" x2="176.50" y2="304.9"/><line x1="202.50" y1="310.5" x2="202.50" y2="304.9"/><line x1="229.50" y1="310.5" x2="229.50" y2="304.9"/><line x1="255.50" y1="310.5" x2="255.50" y2="304.9"/><line x1="282.50" y1="310.5" x2="282.50" y2="304.9"/><line x1="308.50" y1="310.5" x2="308.50" y2="304.9"/><line x1="335.50" y1="310.5" x2="335.50" y2="304.9"/><line x1="361.50" y1="310.5" x2="361.50" y2="304.9"/><line x1="388.50" y1="310.5" x2="388.50" y2="304.9"/><line x1="414.50" y1="310.5" x2="414.50" y2="304.9"/><line x1="441.50" y1="310.5" x2="441.50" y2="304.9"/><line x1="467.50" y1="310.5" x2="467.50" y2="304.9"/><line x1="494.50" y1="310.5" x2="494.50" y2="304.9"/><line x1="520.50" y1="310.5" x2="520.50" y2="304.9"/><line x1="547.50" y1="310.5" x2="547.50" y2="304.9"/><line x1="573.50" y1="310.5" x2="573.50" y2="304.9"/><line x1="600.50" y1="310.5" x2="600.50" y2="304.9"/><line x1="626.50" y1="310.5" x2="626.50" y2="304.9"/><line x1="653.50" y1="310.5" x2="653.50" y2="304.9"/><line x1="679.50" y1="310.5" x2="679.50" y2="304.9"/><line x1="706.50" y1="310.5" x2="706.50" y2="304.9"/><line x1="732.50" y1="310.5" x2="732.50" y2="304.9"/><line x1="759.50" y1="310.5" x2="759.50" y2="304.9"/><line x1="785.50" y1="310.5" x2="785.50" y2="304.9"/><line x1="70.5" y1="310.50" x2="76.1" y2="310.50"/><line x1="70.5" y1="283.50" x2="76.1" y2="283.50"/><line x1="70.5" y1="257.50" x2="76.1" y2="257.50"/><line x1="70.5" y1="230.50" x2="76.1" y2="230.50"/><line x1="70.5" y1="203.50" x2="76.1" y2="203.50"/><line x1="70.5" y1="177.50" x2="76.1" y2="177.50"/><line x1="70.5" y1="150.50" x2="76.1" y2="150.50"/><line x1="70.5" y1="123.50" x2="76.1" y2="123.50"/><line x1="70.5" y1="97.50" x2="76.1" y2="97.50"/><line x1="70.5" y1="70.50" x2="76.1" y2="70.50"/>
</g>
<text class="yt" transform="translate(62,314.30) scale(1.1,1)">0</text><text class="yt" transform="translate(62,287.63) scale(1.1,1)">20</text><text class="yt" transform="translate(62,260.97) scale(1.1,1)">40</text><text class="yt" transform="translate(62,234.30) scale(1.1,1)">60</text><text class="yt" transform="translate(62,207.63) scale(1.1,1)">80</text><text class="yt" transform="translate(62,180.97) scale(1.1,1)">100</text><text class="yt" transform="translate(62,154.30) scale(1.1,1)">120</text><text class="yt" transform="translate(62,127.63) scale(1.1,1)">140</text><text class="yt" transform="translate(62,100.97) scale(1.1,1)">160</text><text class="yt" transform="translate(62,74.30) scale(1.1,1)">180</text>
<text class="xt" transform="translate(74.45,314.1) rotate(-90) scale(1,0.92)">2004-6-14</text><text class="xt" transform="translate(100.94,314.1) rotate(-90) scale(1,0.92)">2005-3-28</text><text class="xt" transform="translate(127.43,314.1) rotate(-90) scale(1,0.92)">2006-1-4</text><text class="xt" transform="translate(153.92,314.1) rotate(-90) scale(1,0.92)">2006-10-10</text><text class="xt" transform="translate(180.41,314.1) rotate(-90) scale(1,0.92)">2007-7-17</text><text class="xt" transform="translate(206.90,314.1) rotate(-90) scale(1,0.92)">2008-4-28</text><text class="xt" transform="translate(233.39,314.1) rotate(-90) scale(1,0.92)">2009-2-2</text><text class="xt" transform="translate(259.88,314.1) rotate(-90) scale(1,0.92)">2009-11-2</text><text class="xt" transform="translate(286.37,314.1) rotate(-90) scale(1,0.92)">2010-8-16</text><text class="xt" transform="translate(312.86,314.1) rotate(-90) scale(1,0.92)">2011-6-6</text><text class="xt" transform="translate(339.35,314.1) rotate(-90) scale(1,0.92)">2012-3-19</text><text class="xt" transform="translate(365.84,314.1) rotate(-90) scale(1,0.92)">2012-12-17</text><text class="xt" transform="translate(392.33,314.1) rotate(-90) scale(1,0.92)">2013-10-7</text><text class="xt" transform="translate(418.82,314.1) rotate(-90) scale(1,0.92)">2014-7-14</text><text class="xt" transform="translate(445.31,314.1) rotate(-90) scale(1,0.92)">2015-4-20</text><text class="xt" transform="translate(471.80,314.1) rotate(-90) scale(1,0.92)">2016-1-25</text><text class="xt" transform="translate(498.29,312.5) rotate(-90) scale(1,0.92)">2016-10-31</text><text class="xt" transform="translate(524.78,314.1) rotate(-90) scale(1,0.92)">2017-8-14</text><text class="xt" transform="translate(551.27,314.1) rotate(-90) scale(1,0.92)">2018-6-4</text><text class="xt" transform="translate(577.76,314.1) rotate(-90) scale(1,0.92)">2019-3-18</text><text class="xt" transform="translate(604.25,314.1) rotate(-90) scale(1,0.92)">2019-12-16</text><text class="xt" transform="translate(630.74,314.1) rotate(-90) scale(1,0.92)">2020-10-5</text><text class="xt" transform="translate(657.23,314.1) rotate(-90) scale(1,0.92)">2021-7-26</text><text class="xt" transform="translate(683.72,314.1) rotate(-90) scale(1,0.92)">2022-5-9</text><text class="xt" transform="translate(710.21,314.1) rotate(-90) scale(1,0.92)">2023-3-13</text><text class="xt" transform="translate(736.70,314.1) rotate(-90) scale(1,0.92)">2023-12-18</text><text class="xt" transform="translate(763.19,314.1) rotate(-90) scale(1,0.92)">2024-10-7</text><text class="xt" transform="translate(789.68,314.1) rotate(-90) scale(1,0.92)">2025-7-22</text>
<text class="jp" x="20.3" y="53" font-size="15">円/リットル</text>
<rect x="251.5" y="37.5" width="379" height="23" fill="#f5f5f5" stroke="#777" stroke-width="1"/>
<line x1="256" y1="50" x2="273" y2="50" stroke="#ff0000" stroke-width="2"/>
<text class="jp" x="282" y="54" font-size="13" stroke="#000" stroke-width="0.15">京都のガソリン価格(<tspan dx="0.8">ハイオク)</tspan><tspan dx="0.3">と原油価格（円）との差</tspan><tspan dx="-0.3">額</tspan></text>
</svg>
</body></html>
